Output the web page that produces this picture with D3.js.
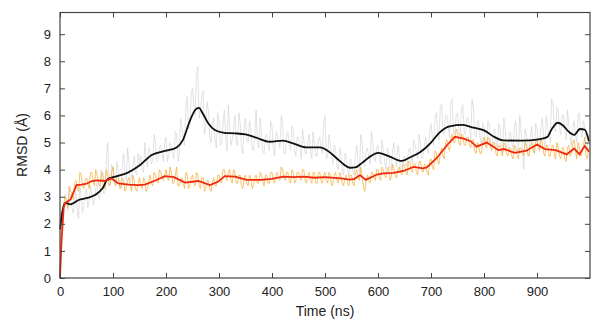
<!DOCTYPE html>
<html>
<head>
<meta charset="utf-8">
<script src="https://cdn.jsdelivr.net/npm/d3@7"></script>
<style>
  body { margin: 0; background: #fff; }
  text { font-family: "Liberation Sans", Arial, sans-serif; }
</style>
</head>
<body>
<svg id="chart" width="603" height="325"></svg>
<script>
// raw samples: "A" at 0,5,10,... ns and "B" at 2.5,7.5,12.5,... ns
const rawStep = 5;
const grayRawA = [
  1.5,2.6,3.1,2.5,2.9,2.4,3.2,2.2,3.0,2.7,
  3.3,2.8,3.1,2.9,3.5,2.9,3.6,3.2,5.0,3.4,
  4.0,3.4,3.9,3.5,4.6,3.6,4.3,3.7,4.5,3.8,
  4.2,4.0,5.0,4.1,4.7,4.3,5.1,4.4,4.9,4.3,
  5.2,4.5,4.9,4.4,5.3,4.5,5.6,4.9,6.7,5.6,
  7.0,6.0,7.8,6.2,6.9,5.6,6.2,5.0,5.9,4.8,
  5.8,5.0,6.2,4.7,5.6,5.1,6.0,4.9,5.7,4.6,
  5.9,5.0,5.5,4.7,6.2,4.8,5.4,4.6,5.3,4.7,
  5.6,4.5,5.3,4.8,5.7,4.6,5.4,4.7,5.5,4.5,
  5.2,4.4,5.1,4.6,5.3,4.4,5.0,4.5,5.2,4.6,
  6.0,4.5,5.0,4.2,4.7,4.0,4.6,3.8,4.5,3.7,
  4.3,3.8,4.9,3.9,5.0,4.1,4.8,4.2,5.1,4.3,
  4.9,4.2,4.7,4.0,4.6,4.0,5.0,4.1,4.6,3.9,
  4.5,4.1,4.8,4.2,4.9,4.4,5.0,4.5,5.2,4.6,
  5.7,4.9,6.1,5.1,6.4,5.3,6.0,5.2,6.6,5.4,
  6.1,5.2,6.4,5.3,5.9,5.1,6.3,5.2,5.8,4.9,
  5.6,4.8,5.7,4.8,5.5,4.7,5.6,4.6,5.5,4.7,
  5.4,4.7,5.8,4.6,5.4,4.0,5.3,4.7,5.6,4.6,
  5.5,4.7,5.9,4.8,5.6,5.0,6.5,5.4,6.2,5.3,
  6.0,5.1,5.7,4.9,5.8,5.0,6.1,5.2,5.6,4.7
];
const grayRawB = [
  2.0,2.8,2.7,3.3,2.6,2.9,2.5,3.4,2.4,3.1,
  2.6,3.4,2.7,3.3,3.0,4.0,3.1,4.4,3.6,4.2,
  3.5,4.3,3.3,4.1,3.8,4.8,3.6,4.2,3.9,4.6,
  4.5,3.9,4.4,4.8,4.2,5.3,4.3,4.8,4.6,5.0,
  4.3,5.0,4.6,5.4,4.3,5.9,5.2,6.3,5.5,6.8,
  6.4,7.5,5.9,6.7,5.3,6.5,5.2,5.7,5.1,6.1,
  4.9,5.7,5.3,6.4,4.9,5.5,5.0,6.1,4.8,5.6,
  5.1,5.8,4.8,5.3,5.0,5.9,4.7,5.2,4.9,5.8,
  4.8,5.4,5.0,6.0,4.6,5.3,4.9,5.6,4.7,5.2,
  4.8,5.5,4.6,5.0,4.7,5.4,4.5,5.1,4.8,5.7,
  4.4,5.3,4.5,4.9,4.1,4.8,3.9,4.6,4.0,4.4,
  3.9,4.6,4.2,5.3,4.3,4.7,4.5,5.4,4.4,4.8,
  4.5,5.1,4.3,4.8,4.1,4.7,4.4,4.9,4.0,4.4,
  4.3,4.7,4.5,5.1,4.6,5.3,4.4,4.9,4.8,5.4,
  5.2,5.9,5.4,6.3,5.5,6.0,5.6,6.5,5.3,6.0,
  5.5,6.2,5.4,5.9,5.6,6.6,5.3,5.8,5.2,5.7,
  5.0,5.8,4.9,5.4,5.1,5.7,4.9,5.9,4.8,5.3,
  5.0,5.6,4.8,6.0,4.9,5.5,4.5,5.3,4.9,5.7,
  5.0,5.6,5.2,6.0,5.3,6.6,5.6,6.3,5.5,6.0,
  5.4,6.2,5.2,5.6,5.3,6.0,5.4,5.8,4.9,5.3
];
const orangeRawA = [
  0.3,2.2,3.0,2.6,3.2,2.9,3.6,3.2,3.8,3.3,
  3.7,3.3,3.9,3.4,3.8,3.4,3.9,3.3,3.8,3.5,
  4.1,3.4,3.7,3.3,3.6,3.3,3.7,3.2,3.6,3.2,
  3.7,3.3,3.6,3.3,3.8,3.4,3.8,3.5,3.9,3.6,
  4.0,3.6,3.9,3.5,4.1,3.4,3.7,3.3,3.8,3.4,
  3.8,3.4,3.8,3.3,3.7,3.3,3.6,3.2,3.7,3.4,
  3.8,3.5,4.0,3.6,4.0,3.5,3.9,3.5,3.8,3.3,
  3.8,3.4,3.7,3.4,3.8,3.5,3.8,3.4,3.8,3.5,
  3.9,3.5,3.9,3.6,4.0,3.6,3.9,3.5,3.9,3.6,
  3.9,3.6,4.0,3.5,3.9,3.5,3.9,3.5,3.9,3.5,
  3.9,3.5,3.8,3.5,3.9,3.5,3.8,3.4,3.8,3.4,
  3.8,3.4,4.0,3.6,3.7,3.2,3.8,3.5,3.9,3.6,
  4.0,3.6,4.0,3.7,4.1,3.7,4.0,3.7,4.1,3.8,
  4.2,3.8,4.3,3.9,4.2,3.8,4.3,3.9,4.2,3.8,
  4.4,4.0,4.6,4.2,4.8,4.4,5.1,4.7,5.3,5.0,
  5.4,4.9,5.3,4.9,5.2,4.8,5.1,4.6,4.9,4.6,
  5.2,4.8,5.1,4.7,5.0,4.5,4.9,4.5,4.9,4.5,
  4.8,4.4,4.8,4.4,4.8,4.5,4.9,4.5,5.0,4.6,
  5.1,4.7,5.0,4.5,4.9,4.5,4.9,4.4,4.8,4.4,
  4.8,4.3,4.9,4.6,5.1,4.4,4.8,4.6,5.2,4.4
];
const orangeRawB = [
  1.6,2.8,2.9,3.4,3.1,3.5,3.3,3.9,3.4,3.6,
  3.5,3.9,3.6,4.0,3.5,3.7,3.6,4.0,3.4,3.9,
  3.6,3.8,3.4,3.7,3.2,3.6,3.4,3.8,3.3,3.5,
  3.4,3.7,3.2,3.6,3.5,3.9,3.6,4.0,3.7,3.8,
  3.7,4.1,3.5,3.8,3.4,3.6,3.5,3.9,3.3,3.7,
  3.5,3.9,3.4,3.7,3.2,3.6,3.3,3.5,3.4,3.8,
  3.6,4.0,3.7,3.9,3.6,4.0,3.5,3.8,3.4,3.7,
  3.5,3.8,3.3,3.7,3.5,3.9,3.6,3.8,3.5,3.9,
  3.6,3.8,3.7,4.1,3.7,3.9,3.6,4.0,3.5,3.9,
  3.7,4.0,3.6,3.8,3.6,3.9,3.5,3.9,3.6,3.8,
  3.6,3.9,3.4,3.8,3.6,3.9,3.5,3.7,3.5,3.8,
  3.5,3.9,3.7,4.1,3.4,3.6,3.6,3.9,3.7,4.0,
  3.7,4.1,3.8,4.0,3.6,4.2,3.8,4.0,3.9,4.2,
  3.9,4.3,4.0,4.2,3.9,4.3,4.0,4.2,3.9,4.3,
  4.1,4.7,4.3,4.6,4.5,5.0,4.8,5.2,5.0,5.5,
  5.0,5.3,4.9,5.2,4.9,5.1,4.7,5.0,4.6,5.0,
  4.9,5.2,4.8,5.0,4.6,4.9,4.6,5.0,4.6,4.8,
  4.5,4.9,4.5,4.8,4.6,5.0,4.6,4.9,4.7,5.0,
  4.8,5.1,4.6,4.9,4.5,4.8,4.6,5.0,4.5,4.8,
  4.4,4.8,4.5,5.0,4.7,5.0,4.5,4.9,4.5,4.8
];

// smoothed curves
const blackTime = [0,5,10,20,35,50,66,80,90,100,128,150,173,200,220,232,245,255,262,270,280,292,310,330,350,370,396,421,440,465,491,505,522,535,547,557,570,585,600,620,645,660,680,700,715,735,760,780,800,820,836,870,906,919,928,939,948,960,970,981,990,998];
const blackRmsd = [1.8,2.5,2.77,2.72,2.88,2.95,3.06,3.3,3.65,3.72,3.89,4.15,4.54,4.7,4.82,5.1,5.8,6.2,6.28,6.05,5.7,5.46,5.36,5.34,5.3,5.18,5.03,5.07,4.97,4.82,4.82,4.7,4.42,4.2,4.07,4.08,4.25,4.48,4.62,4.5,4.32,4.45,4.65,5.0,5.35,5.6,5.65,5.55,5.45,5.2,5.08,5.07,5.13,5.2,5.5,5.73,5.65,5.4,5.28,5.5,5.48,5.05];
const redTime = [0,3,7,10,20,31,41,50,60,70,85,97,110,130,147,160,180,198,215,236,261,283,298,311,330,352,380,400,421,440,460,480,500,530,547,556,566,577,598,610,629,648,667,685,692,711,730,745,760,775,786,805,815,827,838,858,880,900,915,935,956,970,980,990,998];
const redRmsd = [0,1.4,2.6,2.77,2.9,3.43,3.45,3.48,3.58,3.6,3.58,3.68,3.49,3.45,3.43,3.45,3.6,3.76,3.72,3.52,3.58,3.43,3.55,3.76,3.74,3.62,3.62,3.66,3.74,3.72,3.74,3.7,3.72,3.68,3.63,3.66,3.8,3.62,3.82,3.86,3.88,3.95,4.1,4.05,4.08,4.43,4.9,5.21,5.15,5.05,4.85,5.0,4.88,4.72,4.76,4.62,4.7,4.93,4.76,4.72,4.56,4.78,4.57,4.87,4.66];

const xTicks = [0,100,200,300,400,500,600,700,800,900];
const yTicks = [0,1,2,3,4,5,6,7,8,9];

const mLeft = 60, mRight = 590, mTop = 12.5, mBottom = 278;

const svg = d3.select("#chart");
const x = d3.scaleLinear([0, 1000], [mLeft, mRight]);
const y = d3.scaleLinear([0, 9.8], [mBottom, mTop]);

const pairs = (ts, vs) => ts.map((t, i) => ({t, v: vs[i]}));
// merge the two interleaved raw arrays into one time-ordered series
const rawPairs = (a, b) => d3.merge(a.map((v, i) => [
  {t: i * rawStep, v},
  {t: i * rawStep + rawStep / 2, v: b[i]}
]));

const lin = d3.line().x(d => x(d.t)).y(d => y(d.v));
const smooth = d3.line().x(d => x(d.t)).y(d => y(d.v)).curve(d3.curveMonotoneX);

svg.append("path").datum(rawPairs(grayRawA, grayRawB))
  .attr("fill", "none").attr("stroke", "#cfcfcf").attr("stroke-width", 0.6).attr("d", lin);
svg.append("path").datum(rawPairs(orangeRawA, orangeRawB))
  .attr("fill", "none").attr("stroke", "#f7a92e").attr("stroke-width", 0.7).attr("d", lin);
svg.append("path").datum(pairs(blackTime, blackRmsd))
  .attr("fill", "none").attr("stroke", "#111").attr("stroke-width", 1.8).attr("d", smooth);
svg.append("path").datum(pairs(redTime, redRmsd))
  .attr("fill", "none").attr("stroke", "#ee2a0c").attr("stroke-width", 1.8).attr("d", lin);

// box + inward ticks
const axisColor = "#444";
svg.append("rect").attr("x", mLeft).attr("y", mTop)
  .attr("width", mRight - mLeft).attr("height", mBottom - mTop)
  .attr("fill", "none").attr("stroke", axisColor).attr("stroke-width", 1.2);

const styleAxis = g => {
  g.select(".domain").remove();
  g.selectAll("line").attr("stroke", axisColor);
  g.selectAll("text").attr("font-size", "13px").attr("fill", "#222")
    .attr("font-family", "'Liberation Sans', Arial, sans-serif");
};

svg.append("g").attr("transform", `translate(0,${mBottom})`)
  .call(d3.axisBottom(x).tickValues(xTicks).tickSizeInner(-5).tickPadding(9).tickFormat(d3.format("d")))
  .call(styleAxis);
svg.append("g").attr("transform", `translate(0,${mTop})`)
  .call(d3.axisTop(x).tickValues(xTicks).tickSizeInner(-5).tickFormat(""))
  .call(styleAxis);
svg.append("g").attr("transform", `translate(${mLeft},0)`)
  .call(d3.axisLeft(y).tickValues(yTicks).tickSizeInner(-5).tickPadding(9).tickFormat(d3.format("d")))
  .call(styleAxis);
svg.append("g").attr("transform", `translate(${mRight},0)`)
  .call(d3.axisRight(y).tickValues(yTicks).tickSizeInner(-5).tickFormat(""))
  .call(styleAxis);

svg.append("text").attr("x", 325).attr("y", 316).attr("text-anchor", "middle")
  .attr("font-size", "14px").attr("fill", "#222").text("Time (ns)");
svg.append("text").attr("transform", "translate(27,145) rotate(-90)").attr("text-anchor", "middle")
  .attr("font-size", "14px").attr("fill", "#222").text("RMSD (Å)");
</script>
</body>
</html>
